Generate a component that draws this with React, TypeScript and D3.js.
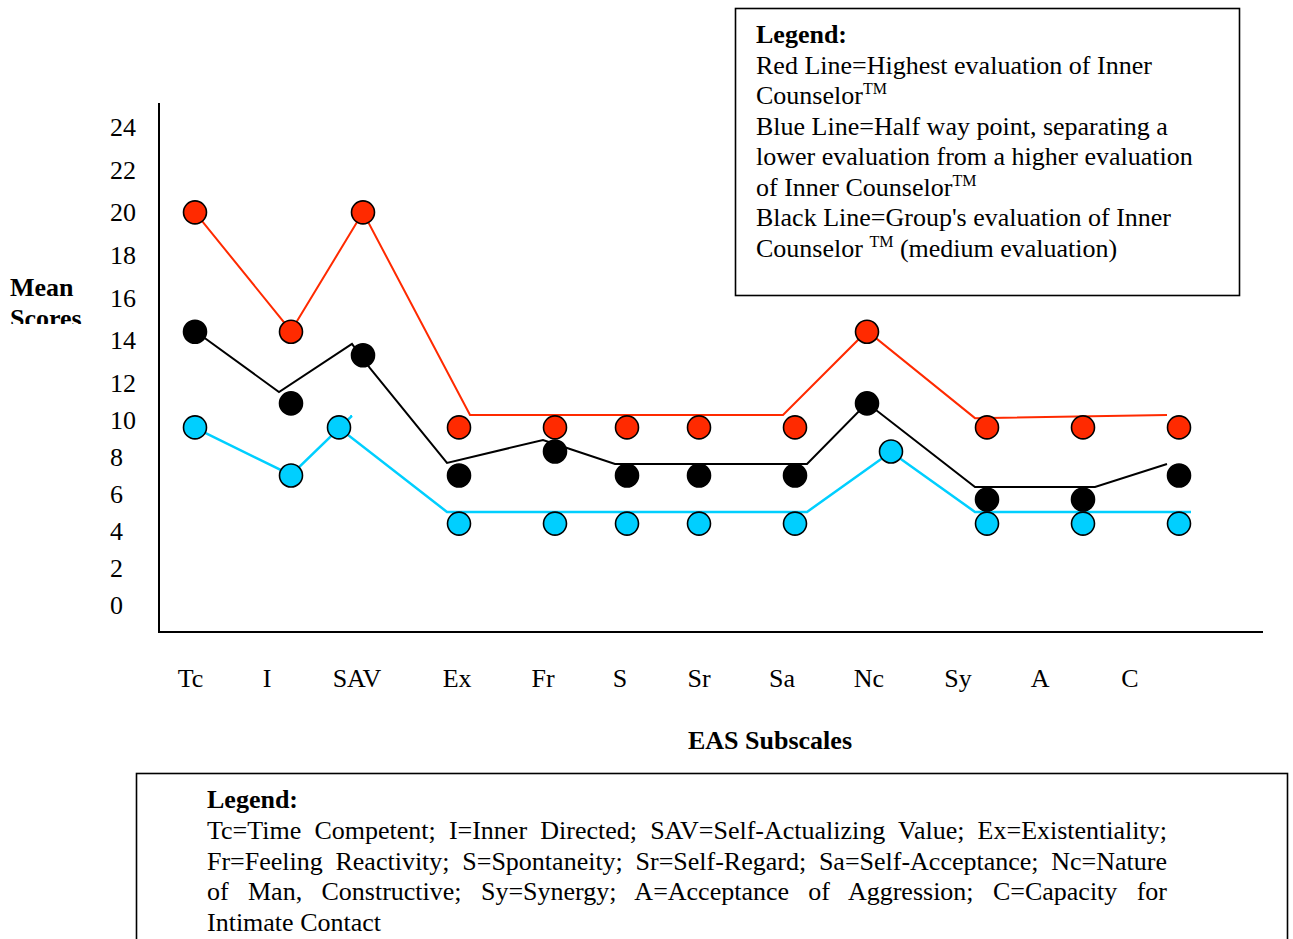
import React, { useLayoutEffect, useRef } from "react";
import * as d3 from "d3";

// EAS subscales, in the order they sit on the x axis
const subscales = ["Tc", "I", "SAV", "Ex", "Fr", "S", "Sr", "Sa", "Nc", "Sy", "A", "C"];
// positions (in grid units)
const labelPos = [-0.19, 3.0, 6.75, 10.92, 14.5, 17.71, 21.0, 24.46, 28.08, 31.79, 35.21, 38.96];
const markerPos = [0, 4, 7, 11, 15, 18, 21, 25, 28, 33, 37, 41];
const blueMarkerPos = [0, 4, 6, 11, 15, 18, 21, 25, 29, 33, 37, 41];

const redValues = [20, 14.4, 20, 9.6, 9.6, 9.6, 9.6, 9.6, 14.4, 9.6, 9.6, 9.6];
const blackValues = [14.4, 10.9, 13.3, 7, 8.3, 7, 7, 7, 10.9, 5.7, 5.7, 7];
const blueValues = [9.6, 7, 9.6, 4.4, 4.4, 4.4, 4.4, 4.4, 8.3, 4.4, 4.4, 4.4];

// the connecting lines were drawn by hand, so they don't pass through the dots
const redLine: [number, number][] = [
  [0, 20], [4, 14.44], [7, 20], [11.46, 10.27], [24.5, 10.27], [28, 14.44], [32.5, 10.1], [40.5, 10.27],
];
const blackLine: [number, number][] = [
  [0, 14.44], [3.5, 11.51], [6.54, 13.83], [7.29, 12.7], [10.5, 7.68], [14.5, 8.92], [15.5, 8.49],
  [17.5, 7.62], [25.5, 7.62], [28, 10.92], [32.5, 6.38], [37.5, 6.38], [40.5, 7.62],
];
const blueLine: [number, number][] = [
  [0, 9.57], [4, 7.03], [6.54, 10.22], [6, 9.57], [10.5, 5.03], [25.5, 5.03], [29, 8.27], [32.5, 5.03], [41.5, 5.03],
];

const yTicks = [0, 2, 4, 6, 8, 10, 12, 14, 16, 18, 20, 22, 24];

const RED = "#ff2a00";
const BLUE = "#00cfff";
const FONT = "'Liberation Serif', 'Times New Roman', serif";
const FS = 26;

const legendLines = [
  { t: "Red Line=Highest evaluation of Inner" },
  { t: "Counselor", tm: "TM" },
  { t: "Blue Line=Half way point, separating a" },
  { t: "lower evaluation from a higher evaluation" },
  { t: "of Inner Counselor", tm: "TM" },
  { t: "Black Line=Group's evaluation of Inner" },
  { t: "Counselor ", tm: "TM", after: " (medium evaluation)" },
];

const keyLines = [
  "Tc=Time Competent; I=Inner Directed; SAV=Self-Actualizing Value; Ex=Existentiality;",
  "Fr=Feeling Reactivity; S=Spontaneity; Sr=Self-Regard; Sa=Self-Acceptance; Nc=Nature",
  "of Man, Constructive; Sy=Synergy; A=Acceptance of Aggression; C=Capacity for",
  "Intimate Contact",
];

export default function App() {
  const keyRef = useRef<SVGGElement>(null);

  const x = d3.scaleLinear().domain([0, 41]).range([195, 1179]);
  const y = d3.scaleLinear().domain([0, 12, 24]).range([605, 383, 127]);
  const line = d3
    .line<[number, number]>()
    .x((d) => x(d[0]))
    .y((d) => y(d[1]));

  // justify the bottom legend like the word processor did
  useLayoutEffect(() => {
    const width = 960;
    d3.select(keyRef.current)
      .selectAll<SVGTextElement, unknown>("text.just")
      .each(function () {
        const el = this;
        el.setAttribute("word-spacing", "0");
        const natural = el.getComputedTextLength();
        const spaces = (el.textContent || "").split(" ").length - 1;
        if (spaces > 0) el.setAttribute("word-spacing", String((width - natural) / spaces));
      });
  }, []);

  const dots = (vals: number[], pos: number[], fill: string) =>
    vals.map((v, i) => (
      <circle key={i} cx={x(pos[i])} cy={y(v)} r={11.5} fill={fill} stroke="#000" strokeWidth={1.6} />
    ));

  return (
    <div style={{ position: "absolute", left: 0, top: 0, width: 1293, height: 939, overflow: "hidden" }}>
      <svg width={1293} height={939} style={{ display: "block", background: "#fff" }} fontFamily={FONT}>
        <defs>
          <clipPath id="meanClip">
            <rect x={0} y={260} width={100} height={64} />
          </clipPath>
        </defs>

        {/* top legend */}
        <rect x={735.5} y={8.5} width={504} height={287} fill="#fff" stroke="#000" strokeWidth={1.6} />
        <text x={756} y={43} fontSize={FS} fontWeight="bold">Legend:</text>
        {legendLines.map((l, i) => (
          <text key={i} x={756} y={73.5 + i * 30.5} fontSize={FS}>
            {l.t}
            {l.tm && (
              <tspan fontSize={16} dy={-10}>
                {l.tm}
              </tspan>
            )}
            {l.after && <tspan dy={10}>{l.after}</tspan>}
          </text>
        ))}

        {/* y label */}
        <g clipPath="url(#meanClip)" fontWeight="bold" fontSize={FS}>
          <text x={10} y={296}>Mean</text>
          <text x={10} y={327}>Scores</text>
        </g>

        {/* y tick labels */}
        {yTicks.map((t) => (
          <text key={t} x={110} y={y(t)} dy="0.35em" fontSize={FS}>
            {t}
          </text>
        ))}

        {/* axes */}
        <line x1={159} y1={103} x2={159} y2={632} stroke="#000" strokeWidth={2} />
        <line x1={158} y1={632} x2={1263} y2={632} stroke="#000" strokeWidth={2} />

        {/* lines */}
        <path d={line(redLine) || ""} fill="none" stroke={RED} strokeWidth={2} />
        <path d={line(blackLine) || ""} fill="none" stroke="#000" strokeWidth={2} />
        <path d={line(blueLine) || ""} fill="none" stroke={BLUE} strokeWidth={2.5} />

        {/* markers */}
        {dots(redValues, markerPos, RED)}
        {dots(blackValues, markerPos, "#000")}
        {dots(blueValues, blueMarkerPos, BLUE)}

        {/* category labels */}
        {subscales.map((s, i) => (
          <text key={s} x={x(labelPos[i])} y={678} dy="0.35em" textAnchor="middle" fontSize={FS}>
            {s}
          </text>
        ))}

        <text x={770} y={740} dy="0.35em" textAnchor="middle" fontSize={FS} fontWeight="bold">
          EAS Subscales
        </text>

        {/* bottom legend */}
        <rect x={136.5} y={773.5} width={1151} height={200} fill="#fff" stroke="#000" strokeWidth={1.6} />
        <g ref={keyRef} fontSize={FS}>
          <text x={207} y={808} fontWeight="bold">Legend:</text>
          {keyLines.map((l, i) => (
            <text key={i} className={i < 3 ? "just" : ""} x={207} y={839 + i * 30.6}>
              {l}
            </text>
          ))}
        </g>
      </svg>
    </div>
  );
}
